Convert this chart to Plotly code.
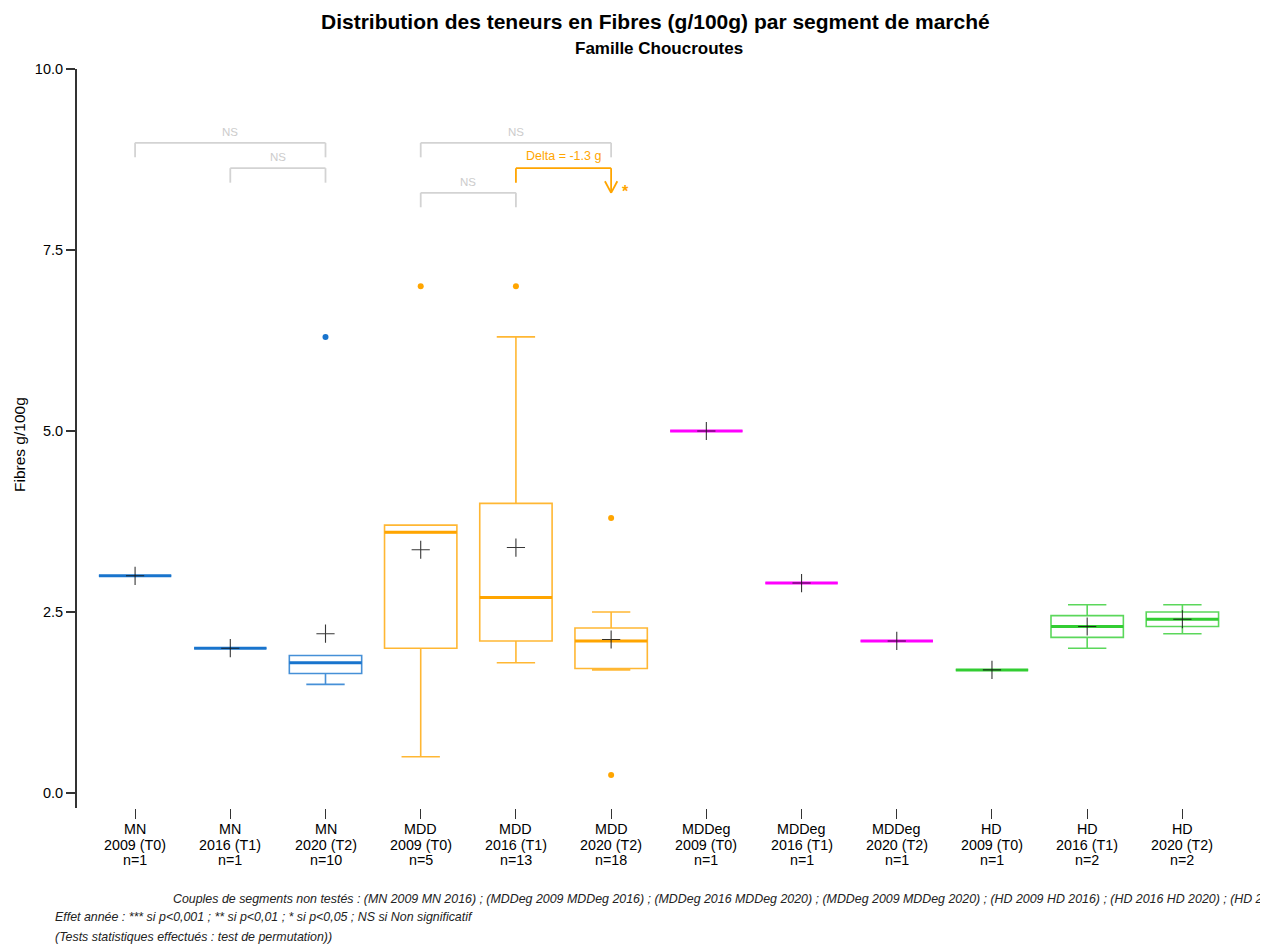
import plotly.graph_objects as go

# ---------------- data ----------------
segments = ["MN", "MN", "MN", "MDD", "MDD", "MDD", "MDDeg", "MDDeg", "MDDeg", "HD", "HD", "HD"]
periods = ["2009 (T0)", "2016 (T1)", "2020 (T2)"] * 4
counts = [1, 1, 10, 5, 13, 18, 1, 1, 1, 1, 2, 2]
q1 = [3.0, 2.0, 1.65, 2.0, 2.1, 1.72, 5.0, 2.9, 2.1, 1.7, 2.15, 2.3]
median = [3.0, 2.0, 1.8, 3.6, 2.7, 2.1, 5.0, 2.9, 2.1, 1.7, 2.3, 2.4]
q3 = [3.0, 2.0, 1.9, 3.7, 4.0, 2.28, 5.0, 2.9, 2.1, 1.7, 2.45, 2.5]
lowerfence = [3.0, 2.0, 1.5, 0.5, 1.8, 1.7, 5.0, 2.9, 2.1, 1.7, 2.0, 2.2]
upperfence = [3.0, 2.0, 1.9, 3.7, 6.3, 2.5, 5.0, 2.9, 2.1, 1.7, 2.6, 2.6]
means = [3.0, 2.0, 2.2, 3.36, 3.39, 2.12, 5.0, 2.9, 2.1, 1.7, 2.3, 2.4]
outlier_idx = [2, 3, 4, 5, 5]
outlier_val = [6.3, 7.0, 7.0, 3.8, 0.25]

seg_colors = {"MN": "#1874CD", "MDD": "#FFA500", "MDDeg": "#FF00FF", "HD": "#32CD32"}

# comparisons: (from idx, to idx, level, label, significant, star)
comparisons = [
    (0, 2, 1, "NS", False, ""),
    (1, 2, 2, "NS", False, ""),
    (3, 5, 1, "NS", False, ""),
    (4, 5, 2, "Delta = -1.3 g", True, "*"),
    (3, 4, 3, "NS", False, ""),
]
level_y = {1: 8.98, 2: 8.63, 3: 8.29}

title = "Distribution des teneurs en Fibres (g/100g) par segment de marché"
subtitle = "Famille Choucroutes"
ytitle = "Fibres g/100g"
foot1 = ("Couples de segments non testés : (MN 2009 MN 2016) ; (MDDeg 2009 MDDeg 2016) ; "
         "(MDDeg 2016 MDDeg 2020) ; (MDDeg 2009 MDDeg 2020) ; (HD 2009 HD 2016) ; "
         "(HD 2016 HD 2020) ; (HD 2009 HD 2020)")
foot2 = "Effet année : *** si p<0,001 ; ** si p<0,01 ; * si p<0,05 ; NS si Non significatif"
foot3 = "(Tests statistiques effectués : test de permutation))"

# ---------------- layout geometry (screen px; page body has an 8px offset) ----------------
OFF = 8
W, H = 1268 - OFF, 945 - OFF
AX_L, AX_T, AX_B, AX_R = 77, 69, 808, 1230   # screen px of plot area
ML, MT = AX_L - OFF, AX_T - OFF
MR, MB = W - (AX_R - OFF), H - (AX_B - OFF)
PW, PH = AX_R - AX_L, AX_B - AX_T
XR = [-0.61, 11.50]
YR = [-15 / 72.4, 10.0]
BOXW = 0.76
FONT = "Liberation Sans"


def px_to_paper_x(px):
    return (px - AX_L) / PW


def px_to_paper_y(py):
    return (AX_B - py) / PH


def hex_rgba(h, a):
    h = h.lstrip("#")
    r, g, b = int(h[0:2], 16), int(h[2:4], 16), int(h[4:6], 16)
    return f"rgba({r},{g},{b},{a})"


fig = go.Figure()

xs = list(range(len(segments)))
for i in xs:
    col = seg_colors[segments[i]]
    fig.add_trace(go.Box(
        x=[i], q1=[q1[i]], median=[median[i]], q3=[q3[i]],
        lowerfence=[lowerfence[i]], upperfence=[upperfence[i]],
        width=BOXW, whiskerwidth=0.53,
        line=dict(color=hex_rgba(col, 0.8), width=1.6),
        fillcolor="rgba(0,0,0,0)", boxpoints=False,
        hoverinfo="skip", showlegend=False,
    ))
    # thicker median
    fig.add_trace(go.Scatter(
        x=[i - BOXW / 2, i + BOXW / 2], y=[median[i], median[i]], mode="lines",
        line=dict(color=col, width=3), hoverinfo="skip", showlegend=False,
    ))

# outliers
fig.add_trace(go.Scatter(
    x=outlier_idx, y=outlier_val, mode="markers",
    marker=dict(size=6, color=[seg_colors[segments[i]] for i in outlier_idx]),
    hoverinfo="skip", showlegend=False,
))

# means
fig.add_trace(go.Scatter(
    x=xs, y=means, mode="markers",
    marker=dict(symbol="cross-thin", size=13, line=dict(width=1.1, color="rgba(20,20,20,0.85)")),
    hoverinfo="skip", showlegend=False,
))

# significance brackets
shapes = []
annotations = []
grey = "#D3D3D3"
orange = seg_colors["MDD"]
drop = 0.2
for a, b, lvl, lab, sig, star in comparisons:
    yt = level_y[lvl]
    col = orange if sig else grey
    lw = 1.8
    shapes.append(dict(type="line", x0=a, x1=b, y0=yt, y1=yt, line=dict(color=col, width=lw)))
    shapes.append(dict(type="line", x0=a, x1=a, y0=yt, y1=yt - drop, line=dict(color=col, width=lw)))
    if sig:
        ytip = level_y[3]
        shapes.append(dict(type="line", x0=b, x1=b, y0=yt, y1=ytip, line=dict(color=col, width=lw)))
        shapes.append(dict(type="line", x0=b - 0.065, x1=b, y0=ytip + 0.16, y1=ytip, line=dict(color=col, width=lw)))
        shapes.append(dict(type="line", x0=b + 0.065, x1=b, y0=ytip + 0.16, y1=ytip, line=dict(color=col, width=lw)))
        annotations.append(dict(x=b + 0.15, y=ytip + 0.02, text="<b>" + star + "</b>", showarrow=False,
                                font=dict(size=16, color=col, family=FONT),
                                xanchor="center", yanchor="middle"))
        annotations.append(dict(x=(a + b) / 2, y=yt + 0.17, text=lab, showarrow=False,
                                font=dict(size=12.5, color=col, family=FONT),
                                xanchor="center", yanchor="middle"))
    else:
        shapes.append(dict(type="line", x0=b, x1=b, y0=yt, y1=yt - drop, line=dict(color=col, width=lw)))
        annotations.append(dict(x=(a + b) / 2, y=yt + 0.15, text=lab, showarrow=False,
                                font=dict(size=11.5, color="#CCCCCC", family=FONT),
                                xanchor="center", yanchor="middle"))

# x tick labels (three rows)
rows_y = [829, 845, 860]
for i in xs:
    for txt, ry in zip([segments[i], periods[i], f"n={counts[i]}"], rows_y):
        annotations.append(dict(x=i, xref="x", yref="paper", y=px_to_paper_y(ry), text=txt,
                                showarrow=False, font=dict(size=14.3, color="#000", family=FONT),
                                xanchor="center", yanchor="middle"))

# titles
annotations.append(dict(xref="paper", yref="paper", x=px_to_paper_x(655), y=px_to_paper_y(22),
                        text="<b>" + title + "</b>", showarrow=False,
                        font=dict(size=21, color="#000", family=FONT), xanchor="center", yanchor="middle"))
annotations.append(dict(xref="paper", yref="paper", x=px_to_paper_x(659), y=px_to_paper_y(49),
                        text="<b>" + subtitle + "</b>", showarrow=False,
                        font=dict(size=17, color="#000", family=FONT), xanchor="center", yanchor="middle"))
annotations.append(dict(xref="paper", yref="paper", x=px_to_paper_x(20), y=px_to_paper_y(445), text=ytitle,
                        showarrow=False, textangle=-90, font=dict(size=15.5, color="#000", family=FONT),
                        xanchor="center", yanchor="middle"))
# footnotes
for txt, xpx, ypx in [(foot1, 171, 899), (foot2, 53, 917), (foot3, 53, 937)]:
    annotations.append(dict(xref="paper", yref="paper", x=px_to_paper_x(xpx), y=px_to_paper_y(ypx),
                            text="<i>" + txt + "</i>", showarrow=False,
                            font=dict(size=12.4, color="#222", family=FONT),
                            xanchor="left", yanchor="middle"))

fig.update_layout(
    width=W, height=H,
    margin=dict(l=ML, r=MR, t=MT, b=MB, autoexpand=False),
    paper_bgcolor="white", plot_bgcolor="white",
    font=dict(family=FONT, color="#000"),
    showlegend=False,
    shapes=shapes, annotations=annotations,
    xaxis=dict(range=XR, tickmode="array", tickvals=xs, showticklabels=False,
               showgrid=False, zeroline=False, showline=False,
               ticks="outside", ticklen=10, tickwidth=1, tickcolor="#333", fixedrange=True),
    yaxis=dict(range=YR, tickmode="array", tickvals=[0, 2.5, 5, 7.5, 10],
               ticktext=["0.0", "2.5", "5.0", "7.5", "10.0"],
               showgrid=False, zeroline=False, showline=True, linecolor="#333", linewidth=2,
               ticks="outside", ticklen=9, tickwidth=1.5, tickcolor="#333",
               tickfont=dict(size=14.5, color="#000"), fixedrange=True),
)

fig.write_html("out.html")
